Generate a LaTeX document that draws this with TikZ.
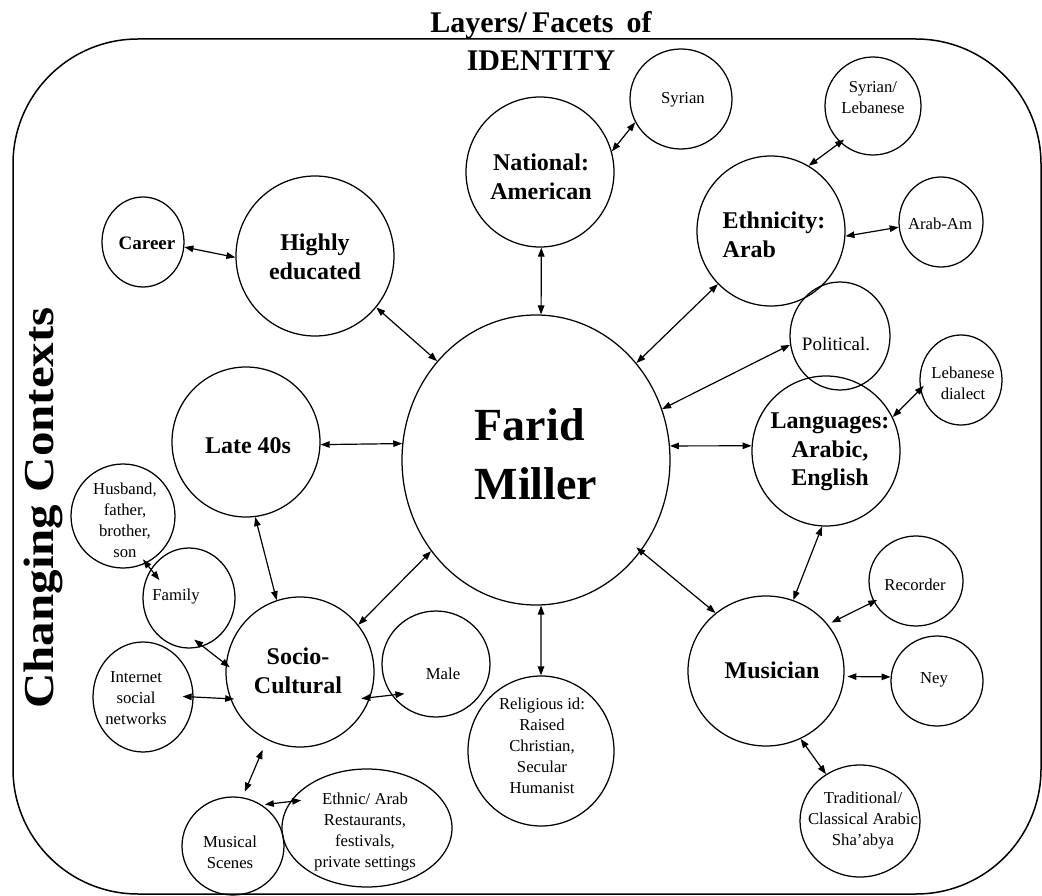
\documentclass[tikz,border=0pt]{standalone}
\usepackage{fontspec}
\setmainfont{Liberation Serif}
\usetikzlibrary{shapes.geometric,arrows.meta}
\begin{document}
\begin{tikzpicture}[x=1pt,y=-1pt,
  bub/.style={ellipse, draw, line width=1.25pt, inner sep=0pt},
  bt/.style={font=\fontsize{24}{28.5}\selectfont\bfseries, align=center, inner sep=0pt},
  rt/.style={font=\fontsize{16.7}{21}\selectfont, align=center, inner sep=0pt},
  link/.style={line width=1.2pt, {Triangle[length=9pt,width=6.5pt]}-{Triangle[length=9pt,width=6.5pt]}},
]
\useasboundingbox (0,0) rectangle (1042,896);
\draw[line width=1.5pt, rounded corners=125pt] (13,39) rectangle (1041,894);

% title and side label
\node[font=\fontsize{30}{38}\selectfont\bfseries, align=center, inner sep=0pt] (title) at (541,41) {Layers/\hspace{5pt}Facets\hspace{13pt}of\\IDENTITY};
\node[font=\fontsize{49}{49}\selectfont\bfseries, rotate=90, yscale=0.87, anchor=base, inner sep=0pt] (ctx) at (53,508) {Changing Contexts};

% bubbles
\node[bub, minimum width=268pt, minimum height=290pt] (farid) at (536,460) {};
\node[font=\fontsize{46}{59}\selectfont\bfseries, align=left, inner sep=0pt] (farid-t) at (536,454) {Farid\\Miller};

\node[bub, minimum width=158pt, minimum height=160pt] (highly) at (315,256) {};
\node[bt] (highly-t) at (315,257) {Highly\\educated};
\node[bub, minimum width=82pt, minimum height=90pt] (career) at (143,242) {};
\node[font=\fontsize{19}{22}\selectfont\bfseries, inner sep=0pt] (career-t) at (147,243) {Career};
\node[bub, minimum width=148pt, minimum height=150pt] (national) at (540,172) {};
\node[bt] (national-t) at (541,177) {National:\\American};
\node[bub, minimum width=102pt, minimum height=100pt] (syrian) at (681,99) {};
\node[rt] (syrian-t) at (683,100) {Syrian};
\node[bub, minimum width=96pt, minimum height=98pt] (syrleb) at (873,106) {};
\node[rt] (syrleb-t) at (873,98) {Syrian/\\Lebanese};
\node[bub, minimum width=148pt, minimum height=150pt] (ethnic) at (771,231) {};
\node[bt, align=left] (ethnic-t) at (774,235) {Ethnicity:\\Arab};
\node[bub, minimum width=84pt, minimum height=90pt] (arabam) at (941,222) {};
\node[rt] (arabam-t) at (940,224) {Arab-Am};
\node[bub, minimum width=100pt, minimum height=108pt] (political) at (840,336) {};
\node[font=\fontsize{19}{22}\selectfont, inner sep=0pt] (political-t) at (836,344) {Political.};
\node[bub, minimum width=82pt, minimum height=90pt] (lebdial) at (961,380) {};
\node[rt] (lebdial-t) at (963,383) {Lebanese\\dialect};
\node[bub, minimum width=148pt, minimum height=150pt] (lang) at (826,451) {};
\node[bt] (lang-t) at (830,452) {Languages:\\Arabic,\\English};
\node[bub, minimum width=94pt, minimum height=90pt] (recorder) at (916,581) {};
\node[rt] (recorder-t) at (915,585) {Recorder};
\node[bub, minimum width=156pt, minimum height=150pt] (musician) at (766,671) {};
\node[bt] (musician-t) at (772,670) {Musician};
\node[bub, minimum width=92pt, minimum height=90pt] (ney) at (937,681) {};
\node[rt] (ney-t) at (934,680) {Ney};
\node[bub, minimum width=120pt, minimum height=112pt] (trad) at (860,821) {};
\node[rt] (trad-t) at (863,821) {Traditional/\\Classical Arabic\\Sha’abya};
\node[bub, minimum width=146pt, minimum height=150pt] (relig) at (541,751) {};
\node[rt] (relig-t) at (542,746) {Religious id:\\Raised\\Christian,\\Secular\\Humanist};
\node[bub, minimum width=148pt, minimum height=150pt] (socio) at (300,672) {};
\node[bt] (socio-t) at (298,671) {Socio-\\Cultural};
\node[bub, minimum width=108pt, minimum height=106pt] (male) at (436,664) {};
\node[rt] (male-t) at (443,674) {Male};
\node[bub, minimum width=148pt, minimum height=150pt] (late) at (246,442) {};
\node[bt] (late-t) at (248,446) {Late 40s};
\node[bub, minimum width=104pt, minimum height=104pt] (husband) at (123,516) {};
\node[rt] (husband-t) at (125,520) {Husband,\\father,\\brother,\\son};
\node[bub, minimum width=92pt, minimum height=100pt] (family) at (189,598) {};
\node[rt] (family-t) at (176,597) {Family};
\node[bub, minimum width=100pt, minimum height=110pt] (internet) at (143,697) {};
\node[rt] (internet-t) at (136,698) {Internet\\social\\networks};
\node[bub, minimum width=102pt, minimum height=98pt] (musscenes) at (233,846) {};
\node[rt] (musscenes-t) at (230,852) {Musical\\Scenes};
\node[bub, minimum width=170pt, minimum height=118pt] (restaurants) at (367,828) {};
\node[rt] (restaurants-t) at (365,832) {Ethnic/ Arab\\Restaurants,\\festivals,\\private settings};

% connectors
\draw[link] (career.-7) -- (highly.181);
\draw[link] (highly.-40.4) -- (farid.135.9);
\draw[link] (late.-2) -- (farid.173.6);
\draw[link] (national.-89.2) -- (farid.88);
\draw[link] (national.16.4) -- (syrian.207);
\draw[link, shorten >=-5pt] (ethnic.60.7) -- (syrleb.228);
\draw[link] (ethnic.-4.6) -- (arabam.187);
\draw[link] (farid.44.1) -- (ethnic.225.6);
\draw[link] (farid.22.4) -- (political.190);
\draw[link, shorten >=-5pt] (lang.27.6) -- (lebdial.193);
\draw[link] (farid.6) -- (lang.176);
\draw[link] (lang.267) -- (musician.69);
\draw[link, shorten <=-6pt] (farid.-41.9) -- (musician.131.2);
\draw[link, shorten <=4pt, shorten >=-4pt] (musician.37.4) -- (recorder.206.6);
\draw[link, shorten <=3pt] (musician.-4.2) -- (ney.175);
\draw[link] (musician.-63.4) -- (trad.126);
\draw[link] (farid.-88) -- (relig.90);
\draw[link] (late.-83.3) -- (socio.108.4);
\draw[link] (farid.221) -- (socio.39);
\draw[link, shorten <=-5pt, shorten >=-14pt] (husband.-64.5) -- (family.143.5);
\draw[link, shorten <=-11pt, shorten >=-5pt] (family.-74.9) -- (socio.174);
\draw[link, shorten <=-11pt, shorten >=-4pt] (internet.0) -- (socio.201);
\draw[link, shorten <=-9pt, shorten >=-13pt] (socio.-20) -- (male.215);
\draw[link, shorten <=11pt, shorten >=6pt] (socio.244.6) -- (musscenes.79.5);
\draw[link, shorten <=3pt, shorten >=-11pt] (musscenes.55.7) -- (restaurants.161);
\end{tikzpicture}
\end{document}
